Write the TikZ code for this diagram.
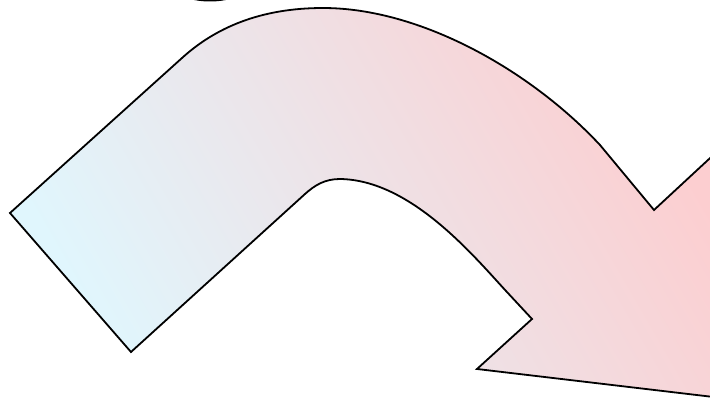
\documentclass[tikz,border=0pt]{standalone}
\definecolor{arrowcyan}{RGB}{224,246,253}
\definecolor{arrowpink}{RGB}{252,206,208}
\tikzset{
  arrowbody/.style={draw=black, line width=1.8pt, line join=miter,
    shading=axis, bottom color=arrowcyan, top color=arrowpink, shading angle=-60},
}
\begin{document}
\begin{tikzpicture}[x=1pt,y=-1pt]
\useasboundingbox (0,0) rectangle (710,401);
\clip (0,0) rectangle (710,401);
% cut-off dark shape at the top edge
\fill[black] (210,-7) ellipse [x radius=28, y radius=8.5];
% curved arrow
\path[arrowbody]
  (10,213) -- (182,58)
  .. controls (215,28) and (260,8) .. (323,8)
  .. controls (420,8) and (530,70) .. (600,145)
  -- (654,210) -- (722,147) -- (722,398) -- (477,369) -- (532,319) -- (506,291)
  .. controls (472,254) and (410,180) .. (340,179)
  .. controls (325,179) and (315,185) .. (305,194)
  -- (131,352) -- cycle;
\end{tikzpicture}
\end{document}
